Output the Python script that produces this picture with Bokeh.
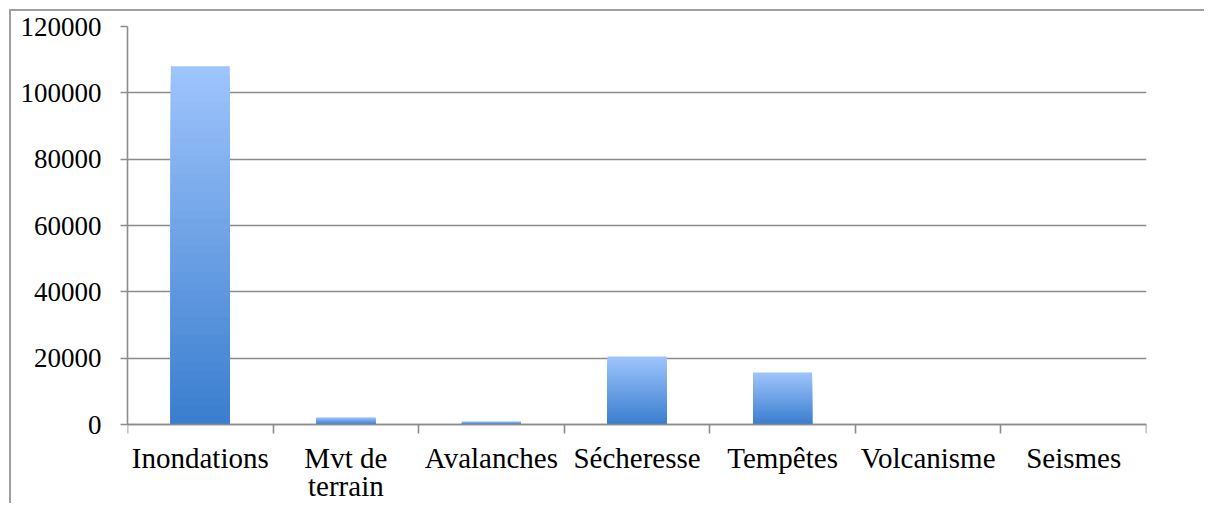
from bokeh.plotting import figure
from bokeh.models import FixedTicker, Range1d, BasicTickFormatter
from bokeh.embed import file_html
from bokeh.resources import INLINE

categories = ["Inondations", "Mvt de\nterrain", "Avalanches", "Sécheresse",
              "Tempêtes", "Volcanisme", "Seismes"]
values = [108000, 2100, 850, 20500, 15700, 0, 120]
y_ticks = [0, 20000, 40000, 60000, 80000, 100000, 120000]

FONT = "Liberation Serif"
GRID = "#8c8c8c"
Y_MAX = 120000
Y_LABEL_ROOM = -24420   # plot area extends below zero to hold the category labels

p = figure(width=1195, height=494, output_backend="svg", toolbar_location=None,
           x_range=Range1d(0, len(categories)), y_range=Range1d(Y_LABEL_ROOM, Y_MAX),
           min_border_left=116, min_border_top=15, min_border_right=60,
           min_border_bottom=0)
p.styles = {"border-top": "2px solid #a0a0a0", "border-left": "2px solid #a0a0a0",
            "margin-left": "9px", "margin-top": "9px"}
p.outline_line_color = None
p.background_fill_color = "white"
p.border_fill_color = "white"

# gradient bars: layered quads from light (tall) to dark (short)
N = 40
top_c = (158, 196, 252)
bot_c = (58, 126, 207)
xs_l, xs_r, tops, bots, cols = [], [], [], [], []
bw = 0.405
for i, v in enumerate(values):
    if v <= 0:
        continue
    for k in range(N):
        f = 1 - k / N
        t = k / (N - 1)
        c = tuple(int(round(top_c[j] + (bot_c[j] - top_c[j]) * t)) for j in range(3))
        xs_l.append(i + 0.5 - bw / 2)
        xs_r.append(i + 0.5 + bw / 2)
        tops.append(v * f)
        bots.append(0)
        cols.append("#%02x%02x%02x" % c)
p.quad(left=xs_l, right=xs_r, top=tops, bottom=bots, fill_color=cols, line_color=None)

# grid
p.xgrid.visible = False
p.ygrid.ticker = FixedTicker(ticks=y_ticks)
p.ygrid.grid_line_color = GRID
p.ygrid.grid_line_width = 1.6

# y axis
ya = p.yaxis[0]
ya.ticker = FixedTicker(ticks=y_ticks)
ya.formatter = BasicTickFormatter(use_scientific=False)
ya.bounds = (0, Y_MAX)
ya.axis_line_color = GRID
ya.axis_line_width = 1.6
ya.major_tick_line_color = GRID
ya.major_tick_line_width = 1.6
ya.major_tick_out = 7
ya.major_tick_in = 0
ya.minor_tick_line_color = None
ya.major_label_text_font = FONT
ya.major_label_text_font_size = "27px"
ya.major_label_text_color = "black"
ya.major_label_standoff = 19

# x axis: labels at centres, ticks at boundaries, pinned at y = 0
xa = p.xaxis[0]
xa.fixed_location = 0
xa.ticker = FixedTicker(ticks=[i + 0.5 for i in range(len(categories))],
                        minor_ticks=list(range(len(categories) + 1)))
xa.major_label_overrides = {i + 0.5: c for i, c in enumerate(categories)}
xa.axis_line_color = GRID
xa.axis_line_width = 1.6
xa.major_tick_line_color = None
xa.major_tick_out = 0
xa.minor_tick_line_color = GRID
xa.minor_tick_line_width = 1.6
xa.minor_tick_out = 9
xa.minor_tick_in = 0
xa.major_label_text_font = FONT
xa.major_label_text_font_size = "29px"
xa.major_label_text_line_height = 0.9
xa.major_label_text_color = "black"
xa.major_label_standoff = 8

open("out.html", "w").write(file_html(p, INLINE))
